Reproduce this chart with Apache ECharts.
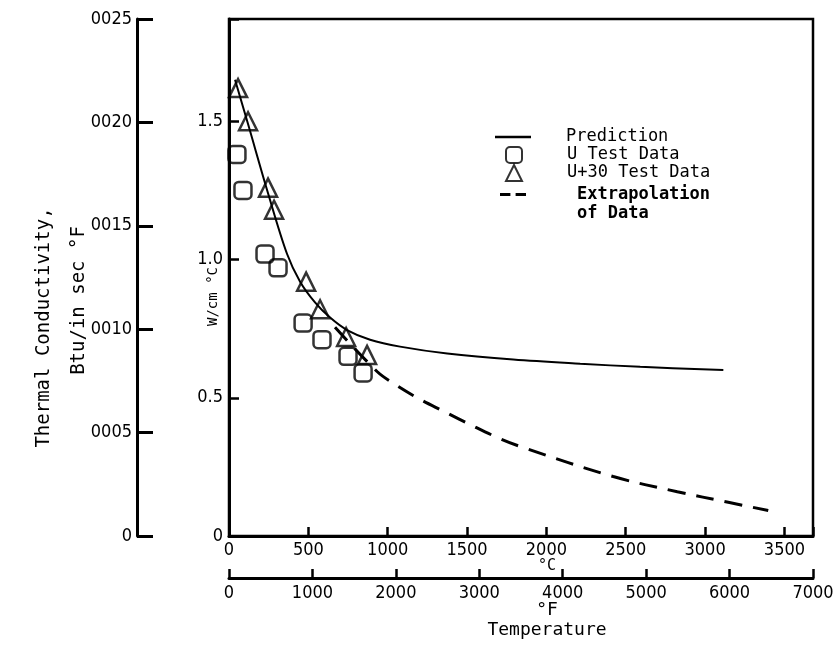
<!DOCTYPE html>
<html>
<head>
<meta charset="utf-8">
<title>Thermal Conductivity</title>
<script src="https://cdn.jsdelivr.net/npm/echarts@6/dist/echarts.min.js"></script>
<style>
  html, body { margin: 0; padding: 0; background: #fff; }
  #chart { width: 838px; height: 659px; }
</style>
</head>
<body>
<div id="chart"></div>
<script>
// values (temperature in deg C, conductivity in W/cm C)
var predTempC = [38, 120, 246, 366, 448, 542, 637, 744, 889, 1078, 1375, 1791, 2213, 2591, 3115];
var predCond = [1.65, 1.49, 1.24, 1.02, 0.92, 0.845, 0.79, 0.745, 0.71, 0.685, 0.66, 0.638, 0.623, 0.612, 0.60];

var extTempC = [668, 933, 1034, 1192, 1349, 1520, 1696, 1854, 2421, 2825, 3146, 3398];
var extCond = [0.755, 0.595, 0.553, 0.498, 0.452, 0.403, 0.355, 0.32, 0.215, 0.16, 0.122, 0.092];

var uTempC = [50, 88, 227, 309, 467, 586, 750, 845];
var uCond = [1.38, 1.25, 1.02, 0.97, 0.77, 0.71, 0.65, 0.59];

var u30TempC = [57, 120, 246, 284, 486, 574, 738, 870];
var u30Cond = [1.62, 1.50, 1.26, 1.18, 0.92, 0.82, 0.72, 0.655];

// tick labels as printed
var wLabels = ["0", "0.5", "1.0", "1.5"];
var btuLabels = ["0", "0005", "0010", "0015", "0020", "0025"];
var cLabels = ["0", "500", "1000", "1500", "2000", "2500", "3000", "3500"];
var fLabels = ["0", "1000", "2000", "3000", "4000", "5000", "6000", "7000"];

var monoFont = "'DejaVu Sans Mono', 'Liberation Mono', monospace";
var tickFont = "'DejaVu Sans Condensed', 'Liberation Sans Narrow', 'DejaVu Sans', sans-serif";

function pairs(xs, ys) {
  var out = [];
  for (var i = 0; i < xs.length; i++) out.push([xs[i], ys[i]]);
  return out;
}

// only label the real ticks, not the extent end ECharts adds
function stepLabel(labels, step) {
  return function (v) {
    var i = Math.round(v / step);
    if (Math.abs(v - i * step) > step * 1e-6) return "";
    return labels[i] === undefined ? "" : labels[i];
  };
}

var chartDom = document.getElementById("chart");
var myChart = echarts.init(chartDom);

var axisLine = { show: true, onZero: false, lineStyle: { color: "#000", width: 3 } };
var tickLabel = { color: "#000", fontFamily: tickFont, fontSize: 18 };
var legendText = { color: "#000", fontFamily: monoFont, fontSize: 17, lineHeight: 18 };

var option = {
  animation: false,
  backgroundColor: "#fff",
  grid: {
    left: 229,
    right: 25,
    top: 19,
    bottom: 123,
    show: true,
    borderColor: "#000",
    borderWidth: 2.5,
    containLabel: false
  },
  legend: [
    {
      // solid line
      left: 495,
      top: 128,
      padding: 0,
      itemWidth: 36,
      itemHeight: 15,
      symbolKeepAspect: true,
      selectedMode: false,
      data: [{ name: "Prediction", icon: "path://M0,0h36v2.5h-36z" }],
      textStyle: Object.assign({ padding: [0, 0, 0, 30] }, legendText)
    },
    {
      // the two marker kinds
      orient: "vertical",
      left: 505,
      top: 146,
      padding: 0,
      itemWidth: 16,
      itemHeight: 16,
      itemGap: 0,
      selectedMode: false,
      data: ["U Test Data", "U+30 Test Data"],
      textStyle: Object.assign({ padding: [0, 0, 0, 40] }, legendText)
    },
    {
      // dashed line, label on two lines
      left: 500,
      top: 166,
      padding: 0,
      itemWidth: 26,
      itemHeight: 15,
      symbolKeepAspect: true,
      selectedMode: false,
      data: [{ name: "Extrapolation\nof Data", icon: "path://M0,0h10v3h-10zM15,0h10v3h-10z" }],
      formatter: function (name) { return "\n" + name; },
      textStyle: {
        color: "#000",
        fontFamily: monoFont,
        fontSize: 17,
        fontWeight: "bold",
        lineHeight: 19,
        padding: [0, 0, 0, 46]
      }
    }
  ],
  xAxis: [
    {
      type: "value",
      min: 0,
      max: 3680,
      interval: 500,
      position: "bottom",
      axisLine: axisLine,
      axisTick: { show: true, inside: true, length: 9, lineStyle: { color: "#000", width: 2.5 } },
      axisLabel: Object.assign({ margin: 5, formatter: stepLabel(cLabels, 500) }, tickLabel),
      splitLine: { show: false },
      name: "°C",
      nameLocation: "middle",
      nameGap: 23,
      nameMoveOverlap: false,
      nameTextStyle: { color: "#000", fontFamily: monoFont, fontSize: 15, padding: [0, 0, 0, 52] }
    },
    {
      type: "value",
      min: 0,
      max: 7000,
      interval: 1000,
      position: "bottom",
      offset: 42,
      axisLine: axisLine,
      axisTick: { show: true, inside: true, length: 9, lineStyle: { color: "#000", width: 2.5 } },
      axisLabel: Object.assign({ margin: 6, formatter: stepLabel(fLabels, 1000) }, tickLabel),
      splitLine: { show: false },
      name: "°F\nTemperature",
      nameLocation: "middle",
      nameGap: 22,
      nameMoveOverlap: false,
      nameTextStyle: { color: "#000", fontFamily: monoFont, fontSize: 18, lineHeight: 20, padding: [0, 0, 0, 52] }
    }
  ],
  yAxis: [
    {
      type: "value",
      min: 0,
      max: 1.87,
      interval: 0.5,
      position: "left",
      axisLine: axisLine,
      axisTick: { show: true, inside: true, length: 10, lineStyle: { color: "#000", width: 2.5 } },
      axisLabel: Object.assign({ margin: 6, formatter: stepLabel(wLabels, 0.5) }, tickLabel),
      splitLine: { show: false },
      name: "W/cm °C",
      nameLocation: "middle",
      nameGap: 9,
      nameMoveOverlap: false,
      nameTextStyle: { color: "#000", fontFamily: monoFont, fontSize: 14, padding: [0, 38, 0, 0] }
    },
    {
      type: "value",
      min: 0,
      max: 0.0025,
      interval: 0.0005,
      position: "left",
      offset: 92,
      axisLine: axisLine,
      axisTick: { show: true, inside: true, length: 16, lineStyle: { color: "#000", width: 3 } },
      axisLabel: Object.assign({ margin: 5, formatter: stepLabel(btuLabels, 0.0005) }, tickLabel),
      splitLine: { show: false },
      name: "{a|Thermal Conductivity,}\n{b|Btu/in sec °F}",
      nameLocation: "middle",
      nameGap: 40,
      nameMoveOverlap: false,
      nameTextStyle: {
        color: "#000",
        fontFamily: monoFont,
        fontSize: 19,
        lineHeight: 35,
        rich: {
          a: { fontFamily: monoFont, fontSize: 19, lineHeight: 35, color: "#000", padding: [0, 100, 0, 0] },
          b: { fontFamily: monoFont, fontSize: 19, lineHeight: 35, color: "#000", padding: [0, 46, 0, 0] }
        }
      }
    }
  ],
  series: [
    {
      name: "Prediction",
      type: "line",
      data: pairs(predTempC, predCond),
      smooth: 0.35,
      symbol: "none",
      z: 4,
      lineStyle: { color: "#000", width: 2 },
      itemStyle: { color: "#000" }
    },
    {
      name: "U Test Data",
      type: "scatter",
      data: pairs(uTempC, uCond),
      symbol: "roundRect",
      symbolSize: 17,
      z: 3,
      itemStyle: { color: "rgba(255,255,255,0)", borderColor: "#000", borderWidth: 2.5 }
    },
    {
      name: "U+30 Test Data",
      type: "scatter",
      data: pairs(u30TempC, u30Cond),
      symbol: "triangle",
      symbolSize: 18,
      z: 3,
      itemStyle: { color: "rgba(255,255,255,0)", borderColor: "#000", borderWidth: 2.5 }
    },
    {
      name: "Extrapolation\nof Data",
      type: "line",
      data: pairs(extTempC, extCond),
      smooth: 0.35,
      symbol: "none",
      z: 4,
      lineStyle: { color: "#000", width: 3, type: [18, 11] },
      itemStyle: { color: "#000" }
    }
  ]
};

option && myChart.setOption(option);
</script>
</body>
</html>
